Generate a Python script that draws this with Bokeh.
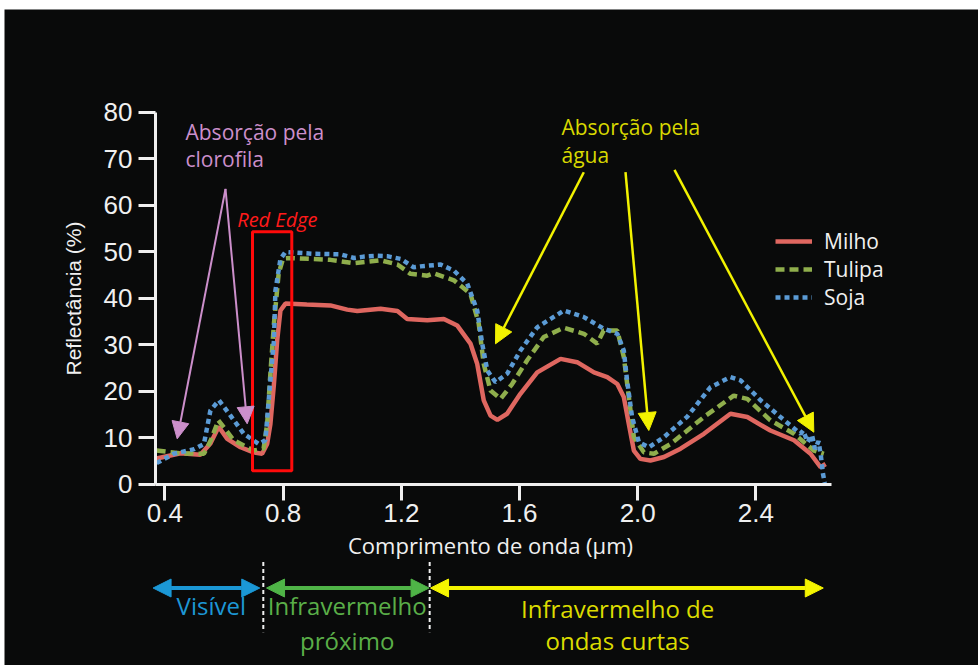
import math
from bokeh.plotting import figure
from bokeh.models import (Range1d, FixedTicker, Legend, LegendItem, Label, Arrow,
                          NormalHead, BoxAnnotation, Spacer)
from bokeh.layouts import column, row
from bokeh.embed import file_html
from bokeh.resources import INLINE

# ---------------- data ----------------
milho_wl = [0.372, 0.453, 0.52, 0.554, 0.582, 0.611, 0.656, 0.70, 0.729, 0.746, 0.757, 0.769,
            0.78, 0.791, 0.808, 0.88, 0.96, 1.017, 1.051, 1.13, 1.187, 1.22, 1.288, 1.344,
            1.389, 1.434, 1.457, 1.479, 1.502, 1.525, 1.558, 1.603, 1.66, 1.739, 1.795, 1.852,
            1.897, 1.931, 1.953, 1.97, 1.987, 2.009, 2.043, 2.089, 2.145, 2.224, 2.314, 2.371,
            2.449, 2.529, 2.585, 2.619, 2.636]
milho_refl = [5.5, 6.6, 6.3, 8.7, 12.3, 9.7, 7.9, 6.8, 6.5, 8.6, 12.9, 21.5,
              30.9, 37.3, 38.8, 38.6, 38.4, 37.5, 37.2, 37.7, 37.2, 35.5, 35.2, 35.5,
              34.1, 30.2, 25.8, 18.0, 14.7, 13.8, 15.1, 19.4, 24.0, 26.9, 26.2, 24.0,
              23.0, 21.5, 18.7, 12.9, 7.2, 5.4, 5.05, 5.8, 7.6, 10.8, 15.1, 14.4,
              11.5, 9.4, 6.5, 3.6, 4.3]

tulipa_wl = [0.372, 0.453, 0.532, 0.556, 0.581, 0.633, 0.70, 0.734, 0.746, 0.757, 0.769, 0.785,
             0.80, 0.825, 0.96, 1.04, 1.13, 1.187, 1.231, 1.288, 1.31, 1.378, 1.434, 1.462,
             1.479, 1.502, 1.536, 1.575, 1.626, 1.682, 1.75, 1.818, 1.863, 1.885, 1.931, 1.953,
             1.97, 1.987, 2.021, 2.055, 2.111, 2.224, 2.325, 2.371, 2.449, 2.529, 2.596, 2.63]
tulipa_refl = [7.2, 6.6, 6.5, 9.5, 13.7, 9.4, 7.2, 7.6, 12.9, 23.8, 34.5, 45.3,
               48.5, 48.6, 48.2, 47.5, 48.1, 47.2, 45.2, 44.8, 45.3, 43.8, 40.9, 34.5,
               25.8, 20.1, 18.3, 21.5, 26.6, 31.6, 33.6, 32.3, 30.2, 33.0, 33.0, 27.3,
               18.7, 10.1, 6.8, 6.5, 8.6, 14.4, 19.0, 18.3, 13.7, 10.8, 7.2, 6.5]

soja_wl = [0.372, 0.43, 0.50, 0.532, 0.554, 0.583, 0.622, 0.667, 0.718, 0.74, 0.757, 0.769,
           0.774, 0.791, 0.808, 0.904, 0.994, 1.04, 1.073, 1.118, 1.152, 1.198, 1.242, 1.265,
           1.333, 1.378, 1.423, 1.457, 1.474, 1.491, 1.519, 1.558, 1.603, 1.66, 1.75, 1.818,
           1.885, 1.931, 1.953, 1.964, 1.981, 2.004, 2.038, 2.089, 2.168, 2.246, 2.314, 2.348,
           2.416, 2.483, 2.551, 2.56, 2.575, 2.59, 2.60, 2.612, 2.62, 2.627, 2.633]
soja_refl = [4.5, 6.5, 7.5, 8.6, 15.8, 18.0, 14.7, 10.8, 8.6, 9.4, 22.3, 30.9,
             41.6, 48.4, 49.9, 49.5, 49.4, 48.6, 48.9, 49.1, 49.0, 48.4, 46.6, 46.8,
             47.2, 45.9, 43.1, 37.3, 30.1, 24.4, 21.9, 23.7, 28.7, 33.7, 37.3, 35.9,
             33.4, 32.3, 28.7, 22.3, 14.4, 9.0, 7.9, 10.1, 14.5, 20.8, 23.0, 22.3,
             18.0, 14.4, 10.8, 11.5, 9.0, 10.5, 7.5, 9.2, 6.0, 2.2, 0.2]

series_names = ["Milho", "Tulipa", "Soja"]
x_ticks = [0.4, 0.8, 1.2, 1.6, 2.0, 2.4]
x_tick_labels = ["0.4", "0.8", "1.2", "1.6", "2.0", "2.4"]
y_ticks = [0, 10, 20, 30, 40, 50, 60, 70, 80]
x_axis_extent = (0.3682, 2.655)
y_axis_extent = (0, 80)

region_edges = [0.36, 0.733, 1.296, 2.628]
region_line1 = ["Visível", "Infravermelho", "Infravermelho de"]
region_line2 = ["", "próximo", "ondas curtas"]
region_label_x = [0.557, 1.017, 1.932]

# ---------------- styling ----------------
BG = "#090a0a"
AX = "#f0f0f0"
RED = "#df6760"
GREEN = "#8fae4c"
BLUE = "#5b9bd5"
PINK = "#cc8fcb"
YEL_ARROW = "#f2f200"
YEL_TEXT = "#d8d800"
TXT_FONT = "Open Sans"

p = figure(width=974, height=656, x_range=Range1d(-0.14281, 3.1533),
           y_range=Range1d(-39.032, 102.043),
           output_backend="svg", toolbar_location=None, title=None,
           min_border_left=0, min_border_right=0, min_border_top=0, min_border_bottom=0,
           background_fill_color=BG, border_fill_color=BG, outline_line_color=None)
p.xgrid.visible = False
p.ygrid.visible = False

for ax in (p.xaxis[0], p.yaxis[0]):
    ax.axis_line_color = AX
    ax.axis_line_width = 3
    ax.major_tick_line_color = AX
    ax.major_tick_line_width = 3
    ax.major_tick_in = 0
    ax.minor_tick_line_color = None
    ax.major_label_text_color = AX
    ax.major_label_text_font = "Liberation Sans"
    ax.major_label_text_font_size = "26px"

xa = p.xaxis[0]
xa.fixed_location = y_axis_extent[0]
xa.ticker = FixedTicker(ticks=x_ticks)
xa.major_label_overrides = dict(zip(x_ticks, x_tick_labels))
xa.bounds = x_axis_extent
xa.major_tick_out = 16
xa.major_label_standoff = 4

ya = p.yaxis[0]
ya.fixed_location = x_axis_extent[0]
ya.ticker = FixedTicker(ticks=y_ticks)
ya.bounds = y_axis_extent
ya.major_tick_out = 17
ya.major_label_standoff = 6

# axis titles
p.add_layout(Label(x=0.0907, y=39.89, text="Reflectância (%)", angle=math.pi / 2,
                   text_color=AX, text_font="Liberation Sans", text_font_size="21px",
                   text_align="center", text_baseline="middle"))
p.add_layout(Label(x=1.5019, y=-13.2, text="Comprimento de onda (µm)",
                   text_color=AX, text_font=TXT_FONT, text_font_size="22px",
                   text_align="center", text_baseline="middle"))

r_m = p.line(milho_wl, milho_refl, line_color=RED, line_width=4.5)
r_t = p.line(tulipa_wl, tulipa_refl, line_color=GREEN, line_width=4.5, line_dash="9 5")
r_s = p.line(soja_wl, soja_refl, line_color=BLUE, line_width=4.5, line_dash="5 4")

legend = Legend(items=[LegendItem(label=series_names[0], renderers=[r_m]),
                       LegendItem(label=series_names[1], renderers=[r_t]),
                       LegendItem(label=series_names[2], renderers=[r_s])],
                location=(771, 354), padding=0, margin=0, spacing=0,
                glyph_width=37, glyph_height=24, label_height=24, label_standoff=12,
                label_text_color=AX, label_text_font=TXT_FONT, label_text_font_size="21px",
                border_line_color=None, background_fill_alpha=0)
p.add_layout(legend)

# red edge box + label
p.add_layout(BoxAnnotation(left=0.6964, right=0.8294, bottom=2.84, top=54.24,
                           fill_alpha=0, line_color="#ff0a0a", line_alpha=1, line_width=3))
p.add_layout(Label(x=0.6447, y=56.9, text="Red Edge", text_color="#ff1a1a",
                   text_font=TXT_FONT, text_font_style="italic", text_font_size="20px",
                   text_baseline="middle", text_align="left"))

# chlorophyll absorption
for txt, yy in (("Absorção pela", 75.8), ("clorofila", 69.8)):
    p.add_layout(Label(x=0.4697, y=yy, text=txt, text_color=PINK, text_font=TXT_FONT,
                       text_font_size="21px", text_baseline="middle", text_align="left"))
for xe, ye in ((0.4416, 9.72), (0.6785, 12.95)):
    p.add_layout(Arrow(end=NormalHead(size=17, fill_color=PINK, line_color=PINK),
                       x_start=0.6051, y_start=63.48, x_end=xe, y_end=ye,
                       line_color=PINK, line_width=2))

# water absorption
for txt, yy in (("Absorção pela", 76.77), ("água", 70.75)):
    p.add_layout(Label(x=1.742, y=yy, text=txt, text_color=YEL_TEXT, text_font=TXT_FONT,
                       text_font_size="21px", text_baseline="middle", text_align="left"))
for xs, ys, xe, ye in ((1.8176, 67.05, 1.5188, 30.15),
                       (1.9587, 67.05, 2.0376, 11.5),
                       (2.1245, 67.57, 2.596, 11.14)):
    p.add_layout(Arrow(end=NormalHead(size=18, fill_color=YEL_ARROW, line_color=YEL_ARROW),
                       x_start=xs, y_start=ys, x_end=xe, y_end=ye,
                       line_color=YEL_ARROW, line_width=2.5))

# ---------------- spectral regions (below the axis) ----------------
arrow_cols = ["#1b98d6", "#4fb447", "#f5f500"]
text_cols = ["#1d97d5", "#5aae48", "#dcdc00"]
starts = [region_edges[0], region_edges[1] + 0.011, region_edges[2] + 0.003]
ends = [region_edges[1] - 0.012, region_edges[2] - 0.002, region_edges[3]]
line1_y = [-26.13, -26.13, -26.77]
for i in range(3):
    c = arrow_cols[i]
    p.add_layout(Arrow(start=NormalHead(size=18, fill_color=c, line_color=c),
                       end=NormalHead(size=18, fill_color=c, line_color=c),
                       x_start=starts[i], y_start=-22.37, x_end=ends[i], y_end=-22.37,
                       line_color=c, line_width=4))
    p.add_layout(Label(x=region_label_x[i], y=line1_y[i], text=region_line1[i],
                       text_color=text_cols[i], text_font=TXT_FONT, text_font_size="24px",
                       text_align="center", text_baseline="middle"))
    if region_line2[i]:
        p.add_layout(Label(x=region_label_x[i], y=-33.66, text=region_line2[i],
                           text_color=text_cols[i], text_font=TXT_FONT,
                           text_font_size="24px", text_align="center",
                           text_baseline="middle"))

p.segment(x0=region_edges[1:3], y0=[-16.8, -16.8], x1=region_edges[1:3], y1=[-31.9, -31.9],
          line_color="#f0f0f0", line_width=2, line_dash="4 3")

layout = column(Spacer(width=978, height=9),
                row(Spacer(width=4, height=656), p, spacing=0),
                spacing=0)
open("out.html", "w").write(file_html(layout, INLINE))
